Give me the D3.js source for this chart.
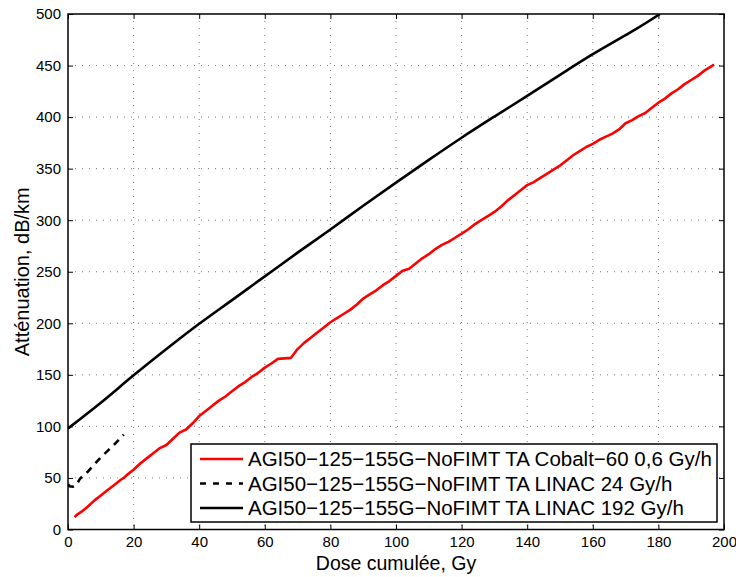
<!DOCTYPE html>
<html><head><meta charset="utf-8">
<script src="https://cdn.jsdelivr.net/npm/d3@7"></script>
<style>body{margin:0;background:#fff}svg{display:block}text{font-family:"Liberation Sans",Arial,sans-serif;fill:#000}</style>
</head><body>
<svg id="c" width="736" height="577"></svg>
<script>
const xTicks = [0,20,40,60,80,100,120,140,160,180,200];
const yTicks = [0,50,100,150,200,250,300,350,400,450,500];

const cobaltX = [2,3,4,6,8,10,12,14,16,17,18,20,22,24,26,28,30,32,34,36,38,40,42,44,46,48,50,52,54,56,58,60,62,64,66,68,70,72,74,76,78,80,82,84,86,88,90,92,94,96,98,100,102,104,106,108,110,112,114,116,118,120,122,124,126,128,130,132,134,136,138,140,142,144,146,148,150,152,154,156,158,160,162,164,166,168,170,172,174,176,178,180,182,184,186,188,190,192,194,196,197];
const cobaltY = [12,15,17,22,28,33,38,43,48,50,53,58,64,69,74,79,82,88,94,97,103,110,115,120,125,129,134,139,143,148,152,157,161,165.5,166,166.5,175,181,186,191,196,201,205,209,213,218,224,228,232,237,241,246,251,253,258,263,267,272,276,279,283,287,291,296,300,304,308,313,319,324,329,334,337,341,345,349,353,358,363,367,371,374,378,381,384,388,394,397,401,404,409,414,418,423,427,432,436,440,445,449,451];

const linac24X = [0,0.5,1.5,2.5,3.7,6,8,10,12,14,17];
const linac24Y = [44,42,41.5,43,49.5,56,63,70,76,82,92];

const linac192X = [0,10,20,30,40,50,60,70,80,90,100,110,120,130,140,150,160,170,173,180.5];
const linac192Y = [98,123,149.5,175,199.5,222.5,245.5,268.5,291,314,336.5,358.5,380,400.5,420.5,441,461,479.5,485,500];

const seriesNames = ["AGI50\u2212125\u2212155G\u2212NoFIMT TA Cobalt\u221260 0,6 Gy/h","AGI50\u2212125\u2212155G\u2212NoFIMT TA LINAC 24 Gy/h","AGI50\u2212125\u2212155G\u2212NoFIMT TA LINAC 192 Gy/h"];
const xLabel = "Dose cumul\u00e9e, Gy";
const yLabel = "Att\u00e9nuation, dB/km";

const L=68, R=724, T=14, B=529.5;
const svg = d3.select("#c");
const x = d3.scaleLinear().domain([0,200]).range([L,R]);
const y = d3.scaleLinear().domain([0,500]).range([B,T]);

// grid
const g = svg.append("g");
g.selectAll("line.vx").data(xTicks.slice(1,-1)).join("line")
  .attr("x1",d=>x(d)).attr("x2",d=>x(d)).attr("y1",T).attr("y2",B)
  .attr("stroke","#777").attr("stroke-width",1).attr("stroke-dasharray","1,6");
g.selectAll("line.hy").data(yTicks.slice(1,-1)).join("line")
  .attr("y1",d=>y(d)).attr("y2",d=>y(d)).attr("x1",L).attr("x2",R)
  .attr("stroke","#777").attr("stroke-width",1).attr("stroke-dasharray","1,6");

// axes
const xb = svg.append("g").attr("transform",`translate(0,${B})`)
  .call(d3.axisBottom(x).tickValues(xTicks).tickSize(-5).tickPadding(7).tickFormat(d3.format("d")));
const xt = svg.append("g").attr("transform",`translate(0,${T})`)
  .call(d3.axisTop(x).tickValues(xTicks).tickSize(-5).tickFormat(""));
const yl = svg.append("g").attr("transform",`translate(${L},0)`)
  .call(d3.axisLeft(y).tickValues(yTicks).tickSize(-5).tickPadding(7).tickFormat(d3.format("d")));
const yr = svg.append("g").attr("transform",`translate(${R},0)`)
  .call(d3.axisRight(y).tickValues(yTicks).tickSize(-5).tickFormat(""));
[xb,xt,yl,yr].forEach(a=>{
  a.select(".domain").remove();
  a.selectAll(".tick line").attr("stroke","#000").attr("stroke-width",1);
  a.selectAll("text").attr("font-size",15).attr("font-family","Liberation Sans, Arial, sans-serif").attr("fill","#222");
});

// lines
const line = d3.line().x(d=>x(d[0])).y(d=>y(d[1]));
const smooth = d3.line().curve(d3.curveMonotoneX).x(d=>x(d[0])).y(d=>y(d[1]));
const zip = (a,b)=>a.map((v,i)=>[v,b[i]]);
svg.append("defs").append("clipPath").attr("id","cl").append("rect")
  .attr("x",L).attr("y",T).attr("width",R-L).attr("height",B-T);
const lg = svg.append("g").attr("clip-path","url(#cl)");
lg.append("path").datum(zip(linac192X,linac192Y)).attr("d",smooth).attr("fill","none").attr("stroke","#000").attr("stroke-width",2.6);
lg.append("path").datum(zip(linac24X,linac24Y)).attr("d",line).attr("fill","none").attr("stroke","#000").attr("stroke-width",2.6).attr("stroke-dasharray","7,6");
lg.append("path").datum(zip(cobaltX,cobaltY)).attr("d",line).attr("fill","none").attr("stroke","#ff0000").attr("stroke-width",2.6).attr("stroke-linejoin","round");

// frame
svg.append("rect").attr("x",L).attr("y",T).attr("width",R-L).attr("height",B-T)
  .attr("fill","none").attr("stroke","#000").attr("stroke-width",1.5);

// labels
svg.append("text").attr("x",(L+R)/2).attr("y",570).attr("text-anchor","middle").attr("font-size",19.5).attr("fill","#111").text(xLabel);
svg.append("text").attr("transform",`translate(29,${(T+B)/2}) rotate(-90)`).attr("text-anchor","middle").attr("font-size",20).attr("fill","#111").text(yLabel);

// legend
const leg = svg.append("g");
leg.append("rect").attr("x",191).attr("y",444).attr("width",526).attr("height",78)
  .attr("fill","#fff").attr("stroke","#000").attr("stroke-width",1.5);
const styles = [{c:"#ff0000",d:null},{c:"#000",d:"6,7"},{c:"#000",d:null}];
const rowsY = [459,483.5,508];
seriesNames.forEach((n,i)=>{
  const l = leg.append("line").attr("x1",200).attr("x2",243).attr("y1",rowsY[i]).attr("y2",rowsY[i])
    .attr("stroke",styles[i].c).attr("stroke-width",2.6);
  if(styles[i].d) l.attr("stroke-dasharray",styles[i].d);
  leg.append("text").attr("x",248).attr("y",rowsY[i]).attr("dy","0.36em").attr("font-size",20.5).attr("fill","#111").text(n);
});
</script>
</body></html>
